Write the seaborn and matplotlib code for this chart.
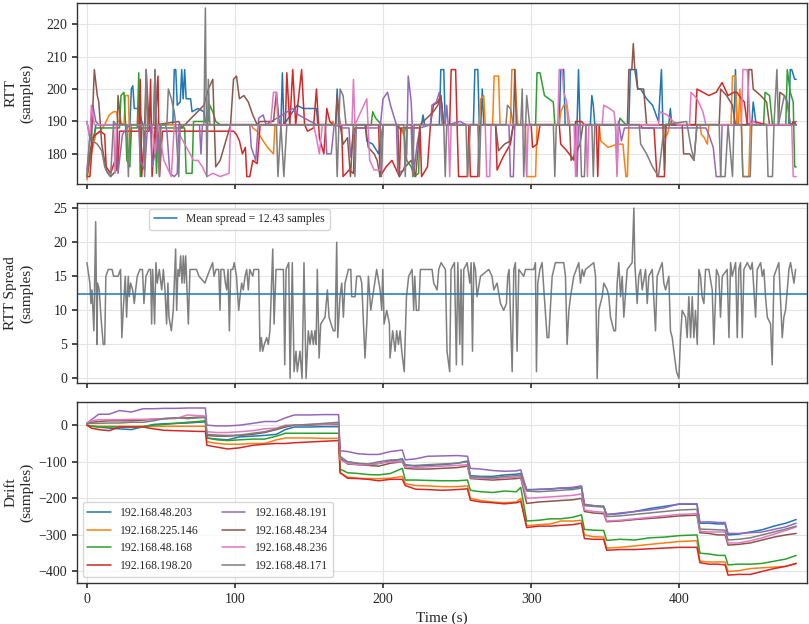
import matplotlib
matplotlib.use("Agg")
import matplotlib.pyplot as plt
import numpy as np
import pandas as pd
import seaborn as sns

HOSTS = ['192.168.48.203', '192.168.225.146', '192.168.48.168', '192.168.198.20',
         '192.168.48.191', '192.168.48.234', '192.168.48.236', '192.168.48.171']
COLORS = sns.color_palette('tab10', 8)
MEAN_SPREAD = 12.43

# RTT per host, (time s, rtt samples)
RTT_203 = [(0,190),(2,185),(4,183),(6,189),(29,189),(30,200),(31,201),(32,194),(35,194),(37,190),(38,189),(58,189),(59,206),(60,206),(61,195),(63,196),(64,206),(65,197),(66,206),(67,197),(70,197),(71,193),(75,194),(79,193),(80,190),(82,189),(131,189),(132,205),(133,189),(139,193),(142,195),(146,194),(150,194),(155,194),(156,189),(168,189),(169,200),(170,189),(188,189),(189,184),(193,183),(197,180),(200,189),(226,189),(227,192),(228,189),(238,189),(239,206),(241,206),(242,189),(261,189),(262,206),(264,206),(265,189),(266,189),(267,200),(268,189),(319,189),(320,206),(322,206),(323,189),(331,189),(332,206),(333,189),(340,189),(341,198),(342,195),(343,189),(366,189),(367,206),(371,206),(372,200),(374,200),(378,197),(382,195),(386,190),(388,206),(389,189),(393,189),(394,194),(395,189),(437,189),(438,206),(439,189),(449,189),(450,196),(452,189),(474,189),(475,206),(476,206),(478,203),(479,203)]
RTT_146 = [(0,172),(2,178),(4,182),(6,186),(9,187),(12,189),(15,192),(18,193),(20,193),(21,190),(25,189),(26,198),(28,198),(29,180),(30,189),(111,189),(112,188),(115,187),(119,184),(122,182),(124,181),(126,180),(127,189),(165,189),(166,190),(167,189),(210,189),(211,188),(214,186),(216,189),(265,189),(266,197),(268,198),(269,189),(274,189),(275,204),(278,204),(279,189),(286,189),(287,206),(289,206),(290,196),(291,189),(296,189),(297,173),(303,173),(304,189),(319,189),(320,193),(322,195),(324,195),(325,189),(346,189),(347,184),(352,182),(358,183),(362,183),(364,173),(365,173),(366,189),(389,189),(390,185),(392,186),(394,190),(395,189),(414,189),(415,186),(417,185),(419,183),(420,189),(435,189),(436,204),(438,204),(439,189),(440,189),(441,200),(442,189),(443,173),(447,173),(448,189),(479,189)]
RTT_168 = [(0,173),(2,180),(4,184),(6,188),(22,188),(23,198),(25,199),(26,190),(27,178),(29,176),(30,188),(34,188),(35,205),(36,173),(37,188),(46,188),(47,174),(48,188),(66,188),(67,174),(71,174),(72,190),(82,190),(83,195),(85,193),(87,190),(90,189),(192,189),(193,193),(195,191),(197,190),(199,189),(210,189),(211,188),(214,187),(216,178),(219,176),(221,173),(224,174),(225,189),(303,189),(304,205),(306,205),(309,198),(312,197),(315,196),(316,189),(359,189),(360,191),(362,190),(364,189),(457,189),(458,199),(461,198),(463,189),(472,189),(473,206),(475,199),(477,196),(478,176),(479,176)]
RTT_20 = [(0,173),(2,173),(4,185),(6,186),(9,187),(12,186),(13,176),(16,174),(19,178),(21,176),(22,187),(35,187),(36,203),(37,173),(39,187),(42,187),(43,203),(44,173),(46,187),(48,204),(49,173),(51,187),(99,187),(101,186),(103,184),(105,180),(107,182),(108,173),(110,173),(112,178),(115,177),(117,189),(134,189),(135,205),(137,189),(139,206),(141,189),(145,206),(147,189),(149,187),(153,188),(155,200),(157,185),(160,180),(162,194),(164,190),(166,189),(172,189),(173,173),(177,175),(180,174),(181,188),(188,188),(189,189),(197,189),(198,173),(202,176),(206,178),(211,173),(212,188),(225,188),(226,173),(230,176),(232,189),(234,195),(237,196),(239,198),(241,189),(245,189),(246,206),(249,206),(250,189),(251,173),(257,173),(258,189),(259,173),(264,173),(265,189),(276,189),(277,175),(281,179),(286,183),(288,189),(300,189),(301,182),(304,183),(306,189),(319,189),(320,183),(324,181),(329,178),(330,190),(334,190),(336,189),(344,189),(345,173),(346,189),(374,189),(375,188),(383,188),(385,173),(390,173),(391,189),(411,189),(412,200),(420,198),(425,199),(429,202),(433,198),(437,199),(439,199),(442,197),(444,196),(446,189),(450,190),(459,189),(476,189),(477,190),(479,189)]
RTT_191 = [(0,175),(2,185),(4,195),(6,190),(8,189),(20,189),(21,174),(24,186),(27,188),(29,189),(35,189),(36,178),(39,175),(41,189),(43,189),(44,176),(46,180),(48,183),(50,189),(53,189),(54,187),(56,174),(59,173),(61,174),(62,189),(76,189),(77,180),(78,189),(110,189),(111,182),(114,178),(116,191),(119,192),(121,189),(139,194),(143,192),(147,191),(151,190),(155,189),(161,189),(162,180),(165,180),(167,189),(173,188),(177,188),(178,179),(180,186),(182,188),(198,188),(200,197),(203,199),(205,195),(207,192),(209,189),(210,174),(214,175),(216,180),(217,204),(219,196),(221,175),(223,183),(225,188),(232,189),(233,195),(236,196),(238,199),(240,189),(242,189),(243,195),(244,189),(252,190),(256,189),(285,189),(286,173),(288,173),(289,189),(330,189),(331,173),(332,189),(357,189),(358,174),(359,190),(361,184),(363,188),(418,188),(420,186),(423,182),(425,173),(428,173),(429,189),(479,189)]
RTT_234 = [(0,173),(3,183),(5,206),(7,198),(8,196),(10,183),(13,175),(16,173),(20,175),(21,198),(23,189),(39,189),(40,206),(42,189),(45,189),(46,206),(47,189),(62,190),(64,188),(79,195),(82,200),(85,203),(87,176),(90,178),(97,189),(99,203),(101,204),(103,197),(106,198),(109,196),(112,192),(115,189),(117,190),(126,190),(128,199),(130,189),(168,189),(169,198),(171,189),(173,183),(176,185),(178,173),(180,189),(188,189),(190,182),(194,180),(196,178),(198,173),(200,189),(210,189),(211,173),(215,176),(219,178),(222,173),(225,189),(234,193),(237,195),(239,198),(241,189),(276,189),(278,181),(282,183),(286,184),(288,189),(289,206),(290,189),(326,189),(327,178),(330,180),(333,183),(335,189),(365,189),(366,206),(368,206),(369,214),(370,206),(372,200),(376,200),(378,189),(389,189),(390,175),(391,189),(402,189),(403,180),(407,180),(410,178),(412,189),(427,189),(428,200),(432,198),(436,195),(438,189),(446,189),(447,206),(449,206),(450,200),(455,198),(459,196),(461,189),(467,189),(468,199),(471,198),(473,196),(475,189),(479,190)]
RTT_236 = [(0,190),(2,185),(3,195),(5,189),(18,189),(19,174),(20,189),(44,189),(46,180),(48,189),(52,178),(55,175),(57,173),(59,189),(72,178),(75,178),(78,176),(81,173),(85,174),(90,173),(96,174),(97,189),(124,189),(126,199),(128,199),(129,189),(153,189),(155,185),(157,180),(159,189),(179,189),(180,203),(181,189),(187,195),(189,197),(191,178),(194,175),(198,175),(200,189),(244,189),(245,173),(246,189),(269,189),(270,173),(272,173),(273,189),(296,189),(297,173),(298,189),(318,189),(319,206),(321,206),(322,199),(324,196),(326,189),(329,189),(330,173),(331,189),(337,189),(338,173),(339,189),(348,189),(349,195),(353,194),(356,193),(357,189),(358,173),(359,189),(386,189),(387,193),(392,192),(396,190),(399,189),(407,189),(408,199),(412,197),(416,193),(418,189),(442,189),(443,206),(446,206),(448,189),(450,190),(453,189),(476,189),(477,173),(479,173)]
RTT_171 = [(0,173),(2,186),(4,184),(7,183),(10,181),(12,176),(14,174),(16,173),(18,190),(20,189),(27,189),(28,173),(29,189),(38,189),(39,173),(40,206),(41,189),(45,189),(46,206),(47,189),(49,173),(50,189),(54,189),(55,200),(57,197),(59,193),(60,189),(62,173),(63,189),(79,189),(80,225),(81,173),(82,203),(83,189),(128,189),(129,173),(131,189),(133,173),(135,189),(168,189),(169,173),(171,200),(173,198),(175,189),(180,189),(181,173),(182,189),(198,189),(199,173),(200,189),(214,189),(215,173),(216,189),(219,189),(220,173),(221,189),(241,189),(242,173),(243,189),(256,189),(257,173),(259,189),(264,189),(265,173),(266,189),(283,189),(284,195),(286,194),(288,189),(293,189),(294,200),(295,173),(297,198),(299,189),(315,189),(316,173),(317,189),(333,189),(334,173),(336,173),(337,189),(341,189),(342,173),(343,189),(373,189),(374,183),(378,180),(382,176),(386,173),(390,189),(405,190),(408,182),(410,178),(412,189),(427,189),(428,173),(431,173),(433,189),(436,173),(437,189),(442,189),(443,173),(448,173),(449,189),(459,189),(460,173),(463,173),(464,189),(466,206),(467,189),(471,198),(473,196),(475,189),(479,189)]

# spread across hosts, (time s, spread samples)
SPREAD_POINTS = [(0,17),(2,14),(2.7,11),(3.4,13),(4.7,7),(5.9,23),(6.8,5),(7.2,14),(8.3,13),(9.5,9),(11,5),(12,5),(12.8,15),(14.4,16),(17,16),(18,15),(21,15),(22.7,16),(23.6,6),(24.5,10),(25.9,15),(26.8,9),(27.9,15),(28.6,12),(29.5,14),(30.9,13),(32,11),(32.9,13),(34,15),(35.8,16),(37.5,16),(38.5,11),(39.9,15),(41.9,16),(43,16),(43.7,8),(44.4,16),(45.7,8),(46.6,17),(47.5,14),(48.9,16),(50.5,13),(51.6,16),(52.7,13),(53.8,8),(54.7,14),(55.4,9),(57,7),(58.3,10),(59.9,19),(60.6,10),(61.5,16),(62.4,15),(63.3,18),(64.2,14),(65.1,18),(65.8,14),(66.7,18),(67.6,13),(68.5,8),(69.6,16),(72.3,16),(74,16),(75.7,15),(79.7,14),(81.3,15),(84.9,17),(85.8,15),(87.2,16),(89,16),(89.9,10),(90.5,16),(92.5,16),(93.5,14),(94.4,13),(95.3,16),(96.2,7),(97.1,16),(98.5,16),(99.5,17),(101,15),(102.5,10),(103.4,12),(104.5,14),(105.6,13),(106.8,15),(107.9,16),(109,13),(110,16),(112,15),(112.8,16),(116,16),(116.9,4),(117.8,6),(118.7,4),(119.8,5),(121.4,6),(122.5,5),(123.6,7),(125.5,19),(126.4,8),(127.7,16),(132.7,16),(133.6,2),(134.5,16),(136.3,17),(137.2,0),(138.7,17),(139.9,1),(141.2,4),(142.1,1),(143.9,4),(145.3,0),(146.6,17),(148,0),(149.5,7),(150.7,5),(151.8,7),(152.9,5),(154,7),(154.8,5),(155.6,16),(156.8,3),(157.9,8),(160.8,9),(162.4,13),(163.5,9),(164.9,8),(166.4,7),(167.6,7),(168.7,20),(169.4,6),(170.9,12),(172.1,14),(173.2,9),(174.3,14),(176.6,16),(178.2,16),(178.8,12),(181.1,12),(182.2,15),(184.5,15),(185.6,14),(187.8,3),(189,8),(190.1,15),(191.7,10),(193,12),(195.7,16),(198,13),(199.1,10),(199.8,16),(200.7,8),(202.5,10),(204.3,8),(204.7,3),(206.5,7),(208.1,4),(209.2,7),(210.4,5),(211.5,7),(212.6,4),(214.3,1),(215.8,12),(217.3,15),(219.6,16),(220.7,10),(221.4,15),(222.5,10),(224.1,10),(225.2,16),(227,16),(233.1,16),(234.2,14),(236.5,13),(237.6,16),(239.2,17),(242.1,16),(243.2,4),(245,1),(245.9,16),(248.2,17),(249.5,2),(250.5,17),(251.8,5),(252.7,16),(253.6,2),(254.5,16),(256.8,17),(258.6,14),(259.5,17),(260.4,4),(261.3,17),(262.4,16),(263.5,12),(265.8,15),(271.4,16),(273.6,15),(274.8,13),(277,14),(279.3,11),(281.5,10),(283.3,11),(284.2,15),(285.1,16),(287.2,1),(288.3,16),(289.4,17),(290.5,4),(291.7,16),(295,15),(296.2,16),(301.8,16),(302.9,17),(303.6,1),(304.5,14),(305.9,16),(307.4,17),(308.6,13),(310.8,6),(311.9,6),(314.2,15),(316.4,17),(322,17),(323.2,15),(324.3,5),(325.5,10),(326.6,12),(328.8,15),(332.2,17),(333.3,14),(334.5,16),(335.6,15),(336.7,16),(342.3,17),(343.5,15),(344.6,0),(345.7,10),(346.8,11),(348,12),(349.1,14),(351.4,13),(352.5,12),(353.6,9),(355.9,7),(357,7),(358.1,14),(359.2,17),(360.4,12),(361.5,15),(362.6,9),(364.9,16),(368.2,17),(369.4,25),(370,17),(371.6,11),(372.7,15),(373.9,16),(375,13),(377.3,16),(378.4,11),(379.5,15),(381.8,16),(384,7),(385.1,15),(388.5,17),(389.6,14),(390.8,13),(393,15),(394.1,7),(395.3,6),(396.4,4),(398.2,1),(399.8,0),(400.9,6),(402,10),(404.3,9),(405.4,6),(406.5,12),(407.7,6),(408.8,12),(409.9,6),(411,10),(412.2,5),(413.3,16),(414.4,15),(415.5,12),(416.7,11),(417.8,16),(420,16),(422.3,13),(423.4,5),(425.2,16),(426.8,15),(427.9,9),(429.1,15),(432.4,16),(433.6,6),(434.7,17),(435.8,15),(438.1,17),(439.2,6),(440.3,16),(441.4,17),(442.6,6),(443.7,16),(446,17),(448.2,16),(449.3,17),(451.6,9),(452.7,16),(455,17),(456.1,15),(457.2,16),(458.3,12),(459.5,9),(461.7,8),(462.8,2),(464,15),(467.3,17),(469.6,6),(470.7,9),(471.8,10),(473,13),(474.1,16),(475.2,17),(477.5,14),(478.6,16)]

# drift, shared time stamps then one list per host
DRIFT_T = [0,3,8,15,22,30,38,45,52,60,68,75,80,
           81,88,95,103,112,120,128,134,140,150,160,170,
           171,176,183,190,197,205,213,
           215,222,230,240,250,257,
           259,266,274,282,290,293,
           297,305,313,320,328,334,
           336,342,349,
           351,360,370,380,390,400,412,
           414,420,426,431,
           433,440,448,456,464,472,479]
DRIFT_203 = [0,-2,-5,-8,-10,-12,-4,2,4,5,6,8,9,
             -35,-38,-40,-32,-30,-28,-25,-12,-5,-5,-4,-4,
             -95,-100,-105,-108,-105,-98,-92,
             -108,-112,-110,-108,-104,-98,
             -138,-140,-140,-136,-134,-132,
             -176,-176,-174,-172,-172,-168,
             -218,-220,-222,
             -244,-242,-236,-228,-222,-216,-216,
             -268,-268,-270,-270,
             -300,-298,-292,-286,-276,-268,-258]
DRIFT_146 = [0,-2,-3,-3,-3,-3,-3,-3,-3,-3,-3,-3,-3,
             -45,-50,-52,-52,-50,-50,-40,-35,-35,-35,-36,-36,
             -130,-142,-145,-146,-146,-145,-140,
             -160,-165,-166,-168,-168,-166,
             -200,-206,-210,-212,-210,-200,
             -275,-272,-270,-262,-262,-260,
             -300,-305,-306,
             -336,-334,-330,-326,-322,-318,-316,
             -372,-374,-374,-374,
             -400,-398,-392,-390,-388,-386,-378]
DRIFT_168 = [0,-3,-5,-5,-5,-5,-4,0,2,5,8,10,12,
             -35,-40,-42,-40,-38,-38,-30,-22,-22,-22,-22,-22,
             -120,-130,-132,-135,-136,-132,-118,
             -150,-150,-151,-152,-152,-150,
             -178,-182,-184,-180,-182,-170,
             -262,-260,-256,-256,-252,-245,
             -285,-287,-288,
             -315,-312,-314,-308,-306,-302,-300,
             -350,-352,-356,-356,
             -382,-380,-380,-378,-372,-366,-356]
DRIFT_20 = [0,-8,-12,-15,-5,-5,-5,-10,-14,-15,-16,-17,-17,
            -55,-60,-65,-62,-55,-52,-50,-50,-48,-46,-44,-42,
            -130,-145,-146,-148,-152,-148,-148,
            -165,-175,-176,-178,-176,-174,
            -205,-210,-212,-215,-212,-208,
            -280,-276,-276,-274,-272,-268,
            -310,-312,-312,
            -342,-340,-340,-338,-336,-334,-334,
            -376,-380,-380,-382,
            -410,-408,-408,-400,-392,-386,-378]
DRIFT_191 = [5,15,30,30,40,36,45,45,46,46,47,47,47,
             0,-2,-2,0,5,10,10,20,28,28,29,29,
             -70,-72,-78,-80,-80,-72,-68,
             -95,-92,-85,-84,-83,-85,
             -118,-120,-124,-126,-125,-122,
             -178,-175,-175,-172,-170,-166,
             -216,-220,-222,
             -245,-240,-236,-232,-226,-215,-215,
             -265,-264,-266,-266,
             -296,-296,-294,-292,-285,-278,-268]
DRIFT_234 = [5,8,10,12,12,12,14,16,18,20,20,22,22,
             -28,-30,-30,-28,-25,-20,-12,-5,0,0,2,2,
             -90,-106,-108,-110,-112,-104,-100,
             -118,-120,-120,-118,-116,-112,
             -146,-148,-150,-148,-146,-144,
             -214,-210,-208,-206,-204,-200,
             -236,-240,-242,
             -264,-262,-258,-255,-252,-248,-246,
             -294,-296,-300,-300,
             -328,-326,-322,-314,-306,-300,-296]
DRIFT_236 = [5,12,15,15,15,16,16,17,17,18,28,26,25,
             -18,-20,-20,-18,-15,-10,-8,0,0,2,3,4,
             -95,-104,-108,-108,-104,-100,-100,
             -114,-116,-114,-112,-110,-108,
             -144,-145,-146,-144,-142,-140,
             -200,-198,-196,-194,-192,-188,
             -232,-236,-238,
             -262,-260,-256,-252,-248,-244,-242,
             -290,-292,-292,-292,
             -322,-322,-316,-308,-298,-288,-278]
DRIFT_171 = [5,5,5,6,6,8,8,12,18,20,18,20,21,
             -25,-27,-28,-27,-22,-18,-10,-2,0,2,5,8,
             -85,-100,-104,-106,-100,-95,-95,
             -110,-110,-108,-106,-104,-100,
             -142,-142,-144,-140,-138,-136,
             -180,-182,-180,-178,-176,-172,
             -220,-222,-224,
             -250,-248,-244,-240,-236,-232,-230,
             -284,-285,-286,-287,
             -314,-312,-308,-300,-292,-284,-276]

rtt_by_host = dict(zip(HOSTS, [RTT_203, RTT_146, RTT_168, RTT_20,
                               RTT_191, RTT_234, RTT_236, RTT_171]))
drift_by_host = dict(zip(HOSTS, [DRIFT_203, DRIFT_146, DRIFT_168, DRIFT_20,
                                 DRIFT_191, DRIFT_234, DRIFT_236, DRIFT_171]))

rtt_df = pd.concat([pd.DataFrame(pts, columns=['t', 'rtt']).assign(host=h)
                    for h, pts in rtt_by_host.items()], ignore_index=True)
drift_df = pd.concat([pd.DataFrame({'t': DRIFT_T, 'drift': v, 'host': h})
                      for h, v in drift_by_host.items()], ignore_index=True)
spread_df = pd.DataFrame(SPREAD_POINTS, columns=['t', 'spread'])

sns.set_theme(style='ticks', rc={
    'axes.grid': True,
    'grid.color': '#e4e4e4',
    'grid.linewidth': 0.8,
    'axes.edgecolor': '#333333',
    'axes.linewidth': 1.0,
    'axes.axisbelow': True,
})
plt.rcParams['font.family'] = ['Liberation Serif', 'DejaVu Serif']

fig, axes = plt.subplots(3, 1, figsize=(8.09, 6.24), dpi=100, sharex=True)
fig.subplots_adjust(left=0.095, right=0.9975, top=0.995, bottom=0.066, hspace=0.105)
ax_rtt, ax_spread, ax_drift = axes

sns.lineplot(data=rtt_df, x='t', y='rtt', hue='host', hue_order=HOSTS, palette=COLORS,
             estimator=None, sort=False, lw=1.1, legend=False, ax=ax_rtt)
ax_rtt.set_ylim(170.8, 226.5)
ax_rtt.set_yticks([180, 190, 200, 210, 220])
ax_rtt.set_ylabel('RTT\n(samples)', fontsize=11)

sns.lineplot(data=spread_df, x='t', y='spread', color='tab:gray', estimator=None,
             sort=False, lw=1.1, ax=ax_spread)
ax_spread.axhline(MEAN_SPREAD, color='tab:blue', lw=1.1,
                  label=f'Mean spread = {MEAN_SPREAD} samples')
ax_spread.set_ylim(-0.7, 25.8)
ax_spread.set_yticks([0, 5, 10, 15, 20, 25])
ax_spread.set_ylabel('RTT Spread\n(samples)', fontsize=11)
ax_spread.legend(loc='upper left', bbox_to_anchor=(0.091, 1.0), fontsize=8.4)

sns.lineplot(data=drift_df, x='t', y='drift', hue='host', hue_order=HOSTS, palette=COLORS,
             estimator=None, sort=False, lw=1.1, ax=ax_drift)
ax_drift.set_ylim(-431, 62.8)
ax_drift.set_yticks([0, -100, -200, -300, -400])
ax_drift.set_ylabel('Drift\n(samples)', fontsize=11)
ax_drift.set_xlabel('Time (s)', fontsize=11)
ax_drift.legend(loc='lower left', ncol=2, fontsize=8.4, title=None)

for ax in axes:
    ax.set_xlim(-6.8, 486.3)
    ax.set_xticks([0, 100, 200, 300, 400])
    ax.tick_params(labelsize=10, length=3.5, color='#333333')
    if ax is not ax_drift:
        ax.set_xlabel('')

fig.align_ylabels(axes)
fig.savefig('out.png', dpi=100)
